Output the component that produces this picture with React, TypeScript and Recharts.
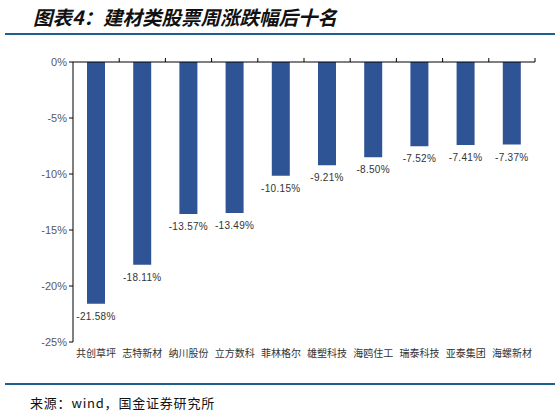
import { BarChart, Bar, XAxis, YAxis, ReferenceLine, LabelList } from 'recharts';

const names = ['共创草坪', '志特新材', '纳川股份', '立方数科', '菲林格尔', '雄塑科技', '海鸥住工', '瑞泰科技', '亚泰集团', '海螺新材'];
const changes = [-21.58, -18.11, -13.57, -13.49, -10.15, -9.21, -8.5, -7.52, -7.41, -7.37];
const yTicks = [-25, -20, -15, -10, -5, 0];

const data = names.map((name, i) => ({ name, value: changes[i] }));

const cjk = '"Noto Sans CJK SC", "Liberation Sans", sans-serif';
const lineColor = '#1f5f8b';
const plotTop = 62;
const halfBand = 23.1;

function ValueLabel(props: any) {
  const { x, y, width, height, value } = props;
  const bottom = Math.max(y, y + height);
  return (
    <text
      x={x + width / 2}
      y={bottom + 16}
      textAnchor="middle"
      fontSize={10}
      fill="#333"
      fontFamily='"Liberation Sans", Arial, sans-serif'
      letterSpacing={0.3}
    >
      {`${value.toFixed(2)}%`}
    </text>
  );
}

// category name below the plot, plus the small upward tick on the zero line
// at the right edge of the band (the 0% axis sits on top of the plot)
function CategoryTick(props: any) {
  const { x, y, payload } = props;
  const edge = x + halfBand;
  return (
    <g>
      <line x1={edge} x2={edge} y1={plotTop - 4} y2={plotTop} stroke="#000" strokeWidth={1} />
      <text x={x} y={y} dy="0.71em" textAnchor="middle" fontSize={10} fill="#333" fontFamily={cjk}>
        {payload.value}
      </text>
    </g>
  );
}

export default function App() {
  return (
    <div style={{ position: 'absolute', left: 0, top: 0, width: 559, height: 415, background: '#fff' }}>
      <div
        style={{
          position: 'absolute',
          left: 33,
          top: 2,
          fontFamily: cjk,
          fontWeight: 700,
          fontStyle: 'italic',
          fontSize: 19.5,
          color: '#111',
          whiteSpace: 'nowrap',
        }}
      >
        图表4：建材类股票周涨跌幅后十名
      </div>
      <div style={{ position: 'absolute', left: 5, top: 33, width: 550, height: 2, background: lineColor }} />

      <div style={{ position: 'absolute', left: 0, top: 0 }}>
        <BarChart
          width={559}
          height={415}
          data={data}
          margin={{ top: plotTop, right: 24, bottom: 43, left: 13 }}
        >
          <XAxis
            dataKey="name"
            axisLine={false}
            tickLine={false}
            height={30}
            interval={0}
            tick={<CategoryTick />}
          />
          <YAxis
            type="number"
            domain={[-25, 0]}
            ticks={yTicks}
            width={60}
            tickSize={4}
            tickFormatter={(v) => `${v}%`}
            axisLine={{ stroke: '#000' }}
            tickLine={{ stroke: '#000' }}
            tick={{ fontSize: 11, fill: '#595959', fontFamily: '"Liberation Sans", Arial, sans-serif' }}
          />
          <ReferenceLine y={0} stroke="#000" />
          <Bar dataKey="value" fill="#2e5496" barSize={18} isAnimationActive={false}>
            <LabelList dataKey="value" content={<ValueLabel />} />
          </Bar>
        </BarChart>
      </div>

      <div style={{ position: 'absolute', left: 5, top: 383, width: 550, height: 2, background: lineColor }} />
      <div
        style={{
          position: 'absolute',
          left: 30,
          top: 393,
          fontFamily: cjk,
          fontSize: 13,
          letterSpacing: 0.8,
          color: '#111',
          whiteSpace: 'nowrap',
        }}
      >
        来源：wind，国金证券研究所
      </div>
    </div>
  );
}
